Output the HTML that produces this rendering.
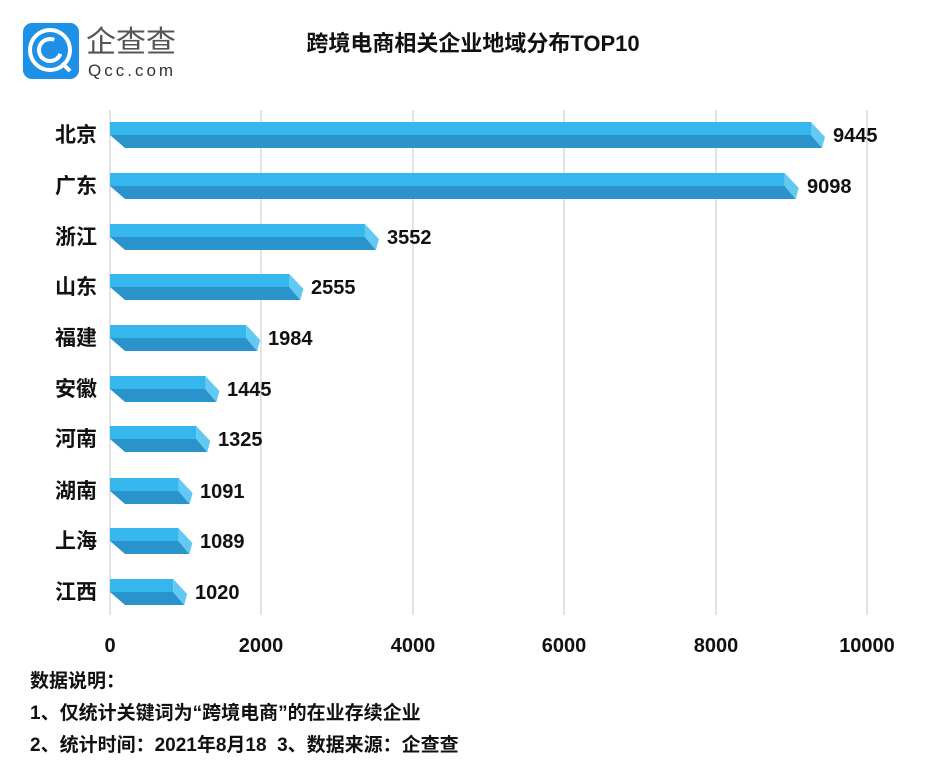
<!DOCTYPE html>
<html><head><meta charset="utf-8"><style>
body{margin:0;background:#fff;}
svg text{font-family:"Liberation Sans","Noto Sans CJK SC",sans-serif;}
</style></head><body>
<svg width="946" height="760" xmlns="http://www.w3.org/2000/svg">
<rect width="946" height="760" fill="#fff"/>
<rect x="23" y="23" width="56" height="56" rx="9" fill="#1e90e8"/>
<circle cx="50" cy="50" r="20" fill="none" stroke="#fff" stroke-width="4"/>
<circle cx="50" cy="50" r="11" fill="none" stroke="#fff" stroke-width="4" stroke-dasharray="52 18" transform="rotate(20 50 50)"/>
<line x1="62" y1="63" x2="70" y2="71" stroke="#fff" stroke-width="4"/>
<text x="86" y="52" font-size="30" fill="#555">企查查</text>
<text x="88" y="76" font-size="17" fill="#333" letter-spacing="3">Qcc.com</text>
<text x="473" y="51" font-size="22" font-weight="bold" text-anchor="middle" fill="#111">跨境电商相关企业地域分布TOP10</text>
<g stroke="#d0d0d0" stroke-width="1.2">
<line x1="110" y1="110" x2="110" y2="615"/>
<line x1="261" y1="110" x2="261" y2="615"/>
<line x1="413" y1="110" x2="413" y2="615"/>
<line x1="564" y1="110" x2="564" y2="615"/>
<line x1="716" y1="110" x2="716" y2="615"/>
<line x1="867" y1="110" x2="867" y2="615"/>
</g>
<g font-size="20" font-weight="bold" text-anchor="middle" fill="#111">
<text x="110" y="652">0</text><text x="261" y="652">2000</text><text x="413" y="652">4000</text>
<text x="564" y="652">6000</text><text x="716" y="652">8000</text><text x="867" y="652">10000</text>
</g>
<g fill="#2a93cc">
<polygon points="110,135 811,135 822,148 125,148"/>
<polygon points="110,186 784.7,186 795.7,199 125,199"/>
<polygon points="110,237 364.9,237 375.9,250 125,250"/>
<polygon points="110,287 289.4,287 300.4,300 125,300"/>
<polygon points="110,338 246.2,338 257.2,351 125,351"/>
<polygon points="110,389 205.4,389 216.4,402 125,402"/>
<polygon points="110,439 196.3,439 207.3,452 125,452"/>
<polygon points="110,491 178.6,491 189.6,504 125,504"/>
<polygon points="110,541 178.4,541 189.4,554 125,554"/>
<polygon points="110,592 173.2,592 184.2,605 125,605"/>
</g>
<g fill="#35b7ee">
<rect x="110" y="122" width="701" height="13"/>
<rect x="110" y="173" width="674.7" height="13"/>
<rect x="110" y="224" width="254.9" height="13"/>
<rect x="110" y="274" width="179.4" height="13"/>
<rect x="110" y="325" width="136.2" height="13"/>
<rect x="110" y="376" width="95.4" height="13"/>
<rect x="110" y="426" width="86.3" height="13"/>
<rect x="110" y="478" width="68.6" height="13"/>
<rect x="110" y="528" width="68.4" height="13"/>
<rect x="110" y="579" width="63.2" height="13"/>
</g>
<g fill="#62c9f3">
<polygon points="811,122 825,137 822,148 811,135"/>
<polygon points="784.7,173 798.7,188 795.7,199 784.7,186"/>
<polygon points="364.9,224 378.9,239 375.9,250 364.9,237"/>
<polygon points="289.4,274 303.4,289 300.4,300 289.4,287"/>
<polygon points="246.2,325 260.2,340 257.2,351 246.2,338"/>
<polygon points="205.4,376 219.4,391 216.4,402 205.4,389"/>
<polygon points="196.3,426 210.3,441 207.3,452 196.3,439"/>
<polygon points="178.6,478 192.6,493 189.6,504 178.6,491"/>
<polygon points="178.4,528 192.4,543 189.4,554 178.4,541"/>
<polygon points="173.2,579 187.2,594 184.2,605 173.2,592"/>
</g>
<g font-size="21" font-weight="bold" fill="#111">
<text x="55" y="142">北京</text><text x="55" y="193">广东</text><text x="55" y="244">浙江</text>
<text x="55" y="294">山东</text><text x="55" y="345">福建</text><text x="55" y="396">安徽</text>
<text x="55" y="446">河南</text><text x="55" y="498">湖南</text><text x="55" y="548">上海</text>
<text x="55" y="599">江西</text>
</g>
<g font-size="20" font-weight="bold" fill="#111">
<text x="833" y="142">9445</text><text x="807" y="193">9098</text><text x="387" y="244">3552</text>
<text x="311" y="294">2555</text><text x="268" y="345">1984</text><text x="227" y="396">1445</text>
<text x="218" y="446">1325</text><text x="200" y="498">1091</text><text x="200" y="548">1089</text>
<text x="195" y="599">1020</text>
</g>
<g font-size="19" font-weight="bold" fill="#111">
<text x="30" y="687">数据说明：</text>
<text x="30" y="719">1、仅统计关键词为“跨境电商”的在业存续企业</text>
<text x="30" y="751">2、统计时间：2021年8月18&#160;&#160;3、数据来源：企查查</text>
</g>
</svg>
</body></html>
